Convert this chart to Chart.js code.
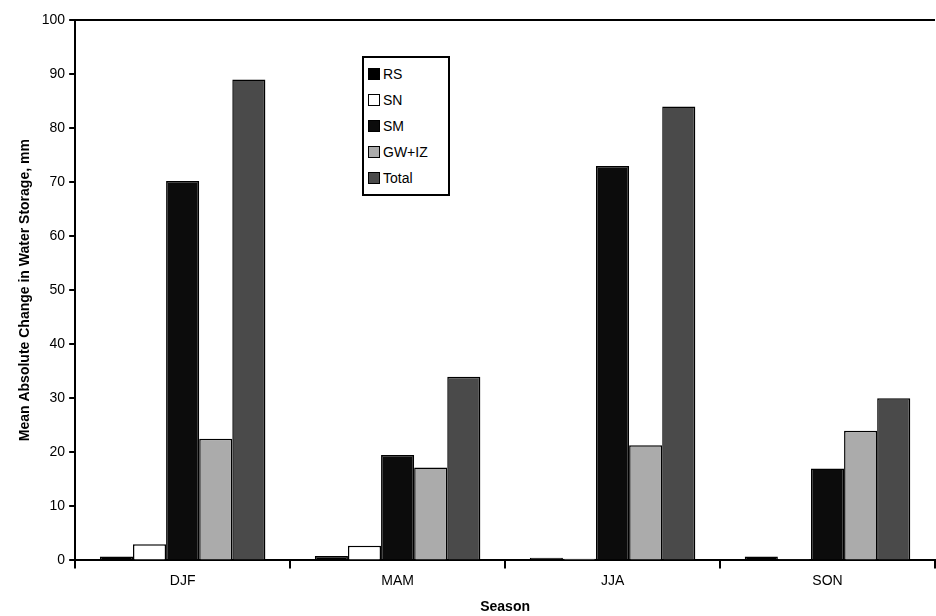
<!DOCTYPE html>
<html><head><meta charset="utf-8">
<script src="https://cdn.jsdelivr.net/npm/chart.js@4"></script>
<style>
body{margin:0;background:#fff;font-family:"Liberation Sans",Arial,sans-serif}
#wrap{position:relative;width:936px;height:616px}
#legend{position:absolute;left:362px;top:56px;width:76px;border:2px solid #000;background:#fff;padding:3px 4px;font-size:14px}
#legend div{height:26px;line-height:26px}
#legend span{display:inline-block;width:10px;height:10px;border:1px solid #000;margin-right:3px;vertical-align:-1px}
</style></head><body>
<div id="wrap"><canvas id="c" width="936" height="616"></canvas>
<div id="legend"></div></div>
<script>
var seasons = ['DJF', 'MAM', 'JJA', 'SON'];
var rs = [0.7, 0.8, 0.5, 0.7];
var sn = [3.0, 2.7, 0.3, 0.2];
var sm = [70.2, 19.5, 73.0, 17.0];
var gwiz = [22.5, 17.2, 21.3, 24.0];
var total = [89.0, 34.0, 84.0, 30.0];
var names = ['RS', 'SN', 'SM', 'GW+IZ', 'Total'];
var fills = ['#000', '#fff', '#0c0c0c', '#ababab', '#4a4a4a'];

var series = [rs, sn, sm, gwiz, total];
var legend = document.getElementById('legend');
names.forEach(function (n, i) {
    legend.innerHTML += '<div><span style="background:' + fills[i] + '"></span>' + n + '</div>';
});

var topLine = {
    id: 'topLine',
    afterDraw: function (chart) {
        var a = chart.chartArea, c = chart.ctx;
        c.save(); c.strokeStyle = '#000'; c.lineWidth = 2;
        c.beginPath(); c.moveTo(a.left, a.top); c.lineTo(a.right, a.top); c.stroke();
        c.restore();
    }
};

new Chart(document.getElementById('c'), {
    type: 'bar',
    data: {
        labels: seasons,
        datasets: series.map(function (d, i) {
            return { label: names[i], data: d, backgroundColor: fills[i], borderColor: '#000', borderWidth: 1.5 };
        })
    },
    options: {
        responsive: false, animation: false,
        layout: { padding: { top: 20, right: 1, left: 13, bottom: 0 } },
        datasets: { bar: { categoryPercentage: 0.77, barPercentage: 1 } },
        plugins: { legend: { display: false }, tooltip: { enabled: false } },
        scales: {
            x: {
                grid: { display: true, offset: true, drawOnChartArea: false, tickLength: 8, color: '#000', lineWidth: 2 },
                border: { color: '#000', width: 2 },
                ticks: { color: '#000', font: { size: 14, family: 'Liberation Sans' }, padding: 4 },
                title: { display: true, text: 'Season', color: '#000', font: { size: 14, weight: 'bold', family: 'Liberation Sans' }, padding: { top: 6, bottom: 0 } }
            },
            y: {
                min: 0, max: 100,
                grid: { display: true, drawOnChartArea: false, tickLength: 6, color: '#000', lineWidth: 2 },
                border: { color: '#000', width: 2 },
                ticks: { stepSize: 10, color: '#000', font: { size: 14, family: 'Liberation Sans' }, padding: 4 },
                title: { display: true, text: 'Mean Absolute Change in Water Storage, mm', color: '#000', font: { size: 14, weight: 'bold', family: 'Liberation Sans' } }
            }
        }
    },
    plugins: [topLine]
});
</script></body></html>
